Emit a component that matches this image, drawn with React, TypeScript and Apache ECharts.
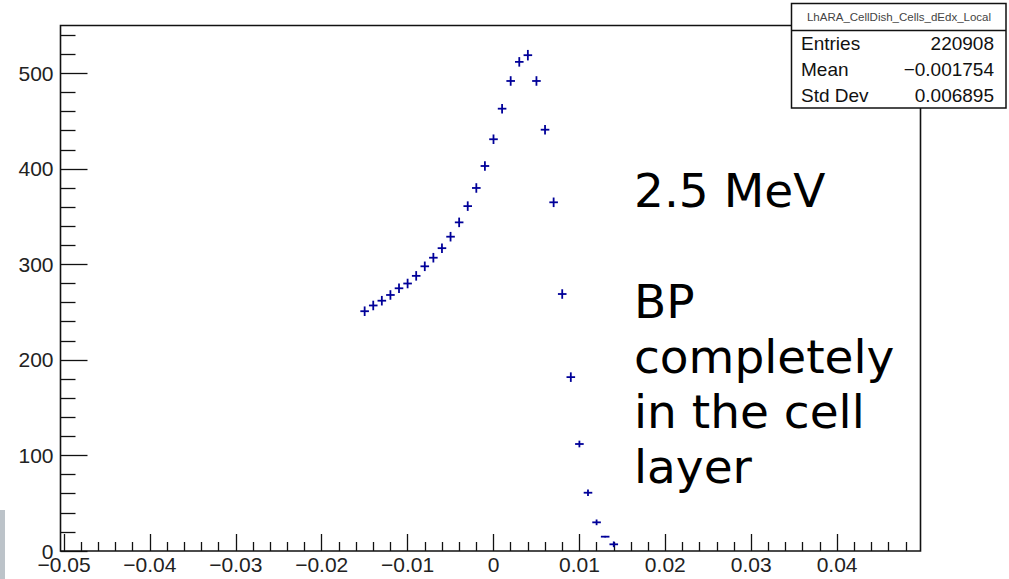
import React, { useEffect, useRef } from "react";
import * as echarts from "echarts";

// Bin centres (x) and contents (y)
const binCentres = [
  -0.015, -0.014, -0.013, -0.012, -0.011, -0.01, -0.009, -0.008, -0.007, -0.006,
  -0.005, -0.004, -0.003, -0.002, -0.001, 0.0, 0.001, 0.002, 0.003, 0.004,
  0.005, 0.006, 0.007, 0.008, 0.009, 0.01, 0.011, 0.012, 0.013, 0.014,
];
const binContents = [
  251, 257, 262, 268, 275, 280, 288, 298, 307, 317,
  329, 344, 361, 380, 403, 431, 463, 492, 512, 519,
  492, 441, 365, 269, 182, 112, 61, 30, 15, 7,
];
const binErrors = [
  5, 5, 5, 5, 5, 5, 5, 5, 5, 5,
  5, 5, 5, 5, 5, 5, 5, 5, 5, 5.5,
  5, 5, 5, 5, 5, 3.5, 3.5, 3, 0.8, 3,
];
const binWidth = 0.001;

const statsTitle = "LhARA_CellDish_Cells_dEdx_Local";
const statsNames = ["Entries", "Mean", "Std Dev"];
const statsValues = ["220908", "\u22120.001754", "0.006895"];
const noteLines = ["2.5 MeV", "BP", "completely", "in the cell", "layer"];

export default function App() {
  const ref = useRef<HTMLDivElement>(null);
  useEffect(() => {
    if (!ref.current) return;
    const chart = echarts.init(ref.current, undefined, { renderer: "svg" });
    const data = binCentres.map((x, i) => [x, binContents[i], binErrors[i]]);
    const ink = "#111";
    const labelFont = "'Liberation Sans', Arial, Helvetica, sans-serif";
    const noteY = [190, 301, 356, 411, 466];

    const graphic: any[] = [
      { type: "rect", z: 100, shape: { x: 0, y: 0, width: 1009, height: 24.6 }, style: { fill: "#fff" }, silent: true },
      { type: "rect", z: 100, shape: { x: 921.5, y: 0, width: 90, height: 579 }, style: { fill: "#fff" }, silent: true },
      { type: "rect", z: 101, shape: { x: 60.5, y: 25.5, width: 860, height: 525.5 }, style: { fill: "none", stroke: ink, lineWidth: 1.6 }, silent: true },
      { type: "rect", z: 102, shape: { x: 791.5, y: 3.5, width: 214.5, height: 104.5 }, style: { fill: "#fff", stroke: ink, lineWidth: 1.5 }, silent: true },
      { type: "line", z: 103, shape: { x1: 791.5, y1: 30.5, x2: 1006, y2: 30.5 }, style: { stroke: ink, lineWidth: 1.5 }, silent: true },
      {
        type: "text", z: 103, x: 899, y: 17,
        style: { text: statsTitle, fill: "#444", font: `11.5px ${labelFont}`, align: "center", verticalAlign: "middle" },
      },
      { type: "rect", z: 103, shape: { x: 0, y: 510, width: 5, height: 69 }, style: { fill: "#bcc3c9" }, silent: true },
    ];
    statsNames.forEach((n, i) => {
      const y = [43, 69, 95][i];
      graphic.push({
        type: "text", z: 103, x: 801, y,
        style: { text: n, fill: ink, font: `19px ${labelFont}`, align: "left", verticalAlign: "middle" },
      });
      graphic.push({
        type: "text", z: 103, x: 994, y,
        style: { text: statsValues[i], fill: ink, font: `19px ${labelFont}`, align: "right", verticalAlign: "middle" },
      });
    });
    noteLines.forEach((t, i) => {
      graphic.push({
        type: "text", z: 103, x: 634, y: noteY[i],
        style: { text: t, fill: "#000", font: "47px 'DejaVu Sans', sans-serif", align: "left", verticalAlign: "middle" },
      });
    });

    const option: any = {
      animation: false,
      backgroundColor: "#fff",
      grid: { left: 64, top: -22.2, width: 859, height: 573.2, containLabel: false, outerBoundsMode: "none" },
      xAxis: {
        type: "value",
        position: "bottom",
        min: -0.05,
        max: 0.05,
        interval: 0.01,
        axisLine: { show: false, onZero: false },
        axisTick: { show: true, inside: true, length: 17, lineStyle: { color: ink, width: 1.3 } },
        minorTick: { show: true, splitNumber: 5, length: 9, lineStyle: { color: ink, width: 1.3 } },
        splitLine: { show: false },
        minorSplitLine: { show: false },
        axisLabel: {
          show: true,
          showMaxLabel: false,
          margin: 3,
          color: "#222",
          fontFamily: labelFont,
          fontSize: 21,
          formatter: (v: number) => (Math.abs(v) < 1e-9 ? "0" : v.toFixed(2).replace("-", "\u2212")),
        },
      },
      yAxis: {
        type: "value",
        position: "left",
        min: 0,
        max: 600,
        interval: 100,
        offset: 3.5,
        axisLine: { show: false, onZero: false },
        axisTick: { show: true, inside: true, length: 27, lineStyle: { color: ink, width: 1.3 } },
        minorTick: { show: true, splitNumber: 5, length: 15, lineStyle: { color: ink, width: 1.3 } },
        splitLine: { show: false },
        minorSplitLine: { show: false },
        axisLabel: {
          show: true,
          showMaxLabel: false,
          margin: 7,
          color: "#222",
          fontFamily: labelFont,
          fontSize: 21,
        },
      },
      series: [
        {
          type: "custom",
          data,
          encode: { x: 0, y: 1 },
          renderItem: (params: any, api: any) => {
            const x = api.value(0);
            const y = api.value(1);
            const e = api.value(2);
            const l = api.coord([x - binWidth / 2, y]);
            const r = api.coord([x + binWidth / 2, y]);
            const t = api.coord([x, y + e]);
            const b = api.coord([x, y - e]);
            const st = { stroke: "#000099", lineWidth: 1.8 };
            return {
              type: "group",
              children: [
                { type: "line", shape: { x1: l[0], y1: l[1], x2: r[0], y2: r[1] }, style: st },
                { type: "line", shape: { x1: t[0], y1: t[1], x2: b[0], y2: b[1] }, style: st },
              ],
            };
          },
        },
      ],
      graphic,
    };
    chart.setOption(option);
    return () => chart.dispose();
  }, []);
  return (
    <div
      ref={ref}
      style={{ position: "fixed", left: 0, top: 0, width: 1009, height: 579, background: "#fff" }}
    />
  );
}
